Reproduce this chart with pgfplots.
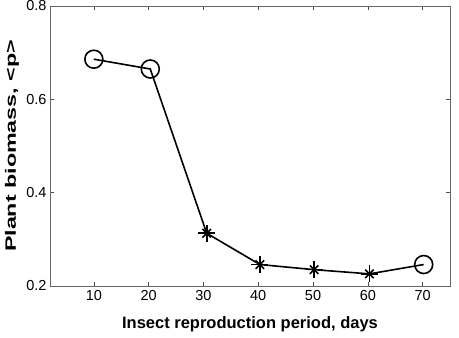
\documentclass[border=0pt]{standalone}
\usepackage{pgfplots}
\pgfplotsset{compat=1.18}
\usepackage{fontspec}
\setmainfont{Liberation Sans}
\begin{document}
\begin{tikzpicture}
\begin{axis}[
  scale only axis,
  width=400pt, height=280pt,
  xmin=2, xmax=75, ymin=0.2, ymax=0.8,
  xtick={10,20,30,40,50,60,70},
  ytick={0.2,0.4,0.6,0.8},
  yticklabel style={/pgf/number format/fixed,/pgf/number format/fixed zerofill,/pgf/number format/precision=1},
  /pgf/number format/assume math mode=true,
  tick label style={font=\fontsize{14.5}{16}\selectfont},
  xlabel={\textbf{Insect reproduction period, days}},
  ylabel={\scalebox{1.55}[1]{\textbf{Plant biomass, <p>}}},
  xlabel style={font=\fontsize{16.5}{18}\selectfont, at={(axis description cs:0.5,0)}, anchor=center, yshift=-38pt},
  ylabel style={font=\fontsize{15}{17}\selectfont, at={(axis description cs:0,0.5)}, anchor=center, yshift=38pt},
  axis line style={black!60, line width=0.8pt},
  tick style={black!70, line width=0.6pt},
  tick align=inside,
  major tick length=4pt,
  xticklabel style={yshift=-1pt},
]
\addplot[black, line width=1.6pt, no markers] coordinates {
 (10,0.686) (20.3,0.665) (30.6,0.313) (40.3,0.246) (50.2,0.235) (60.3,0.226) (70.2,0.246)
};
\addplot[black, only marks, mark=o, mark size=9pt, line width=1.6pt] coordinates {
 (10,0.686) (20.3,0.665) (70.2,0.246)
};
\addplot[black, only marks, mark=+, mark size=8.5pt, line width=1.6pt] coordinates {
 (30.6,0.313) (40.3,0.246) (50.2,0.235) (60.3,0.226)
};
\addplot[black, only marks, mark=x, mark size=6pt, line width=1.6pt] coordinates {
 (30.6,0.313) (40.3,0.246) (50.2,0.235) (60.3,0.226)
};
\end{axis}
\pgfresetboundingbox
\path[use as bounding box] ([xshift=-50pt,yshift=-51pt]current axis.south west) rectangle ([xshift=9pt,yshift=6pt]current axis.north east);
\end{tikzpicture}
\end{document}
